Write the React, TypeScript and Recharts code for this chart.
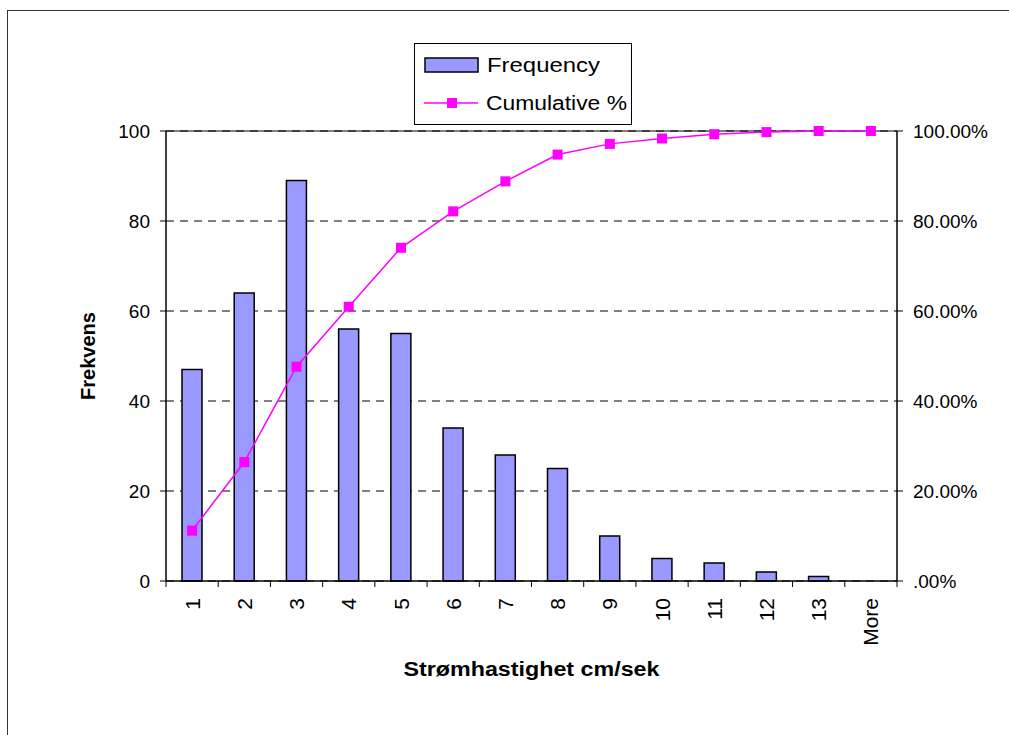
import React from 'react';
import {
  ComposedChart, Bar, Line, XAxis, YAxis, CartesianGrid, ReferenceLine,
} from 'recharts';

const categories = ['1', '2', '3', '4', '5', '6', '7', '8', '9', '10', '11', '12', '13', 'More'];
const frequency = [47, 64, 89, 56, 55, 34, 28, 25, 10, 5, 4, 2, 1, 0];
const cumulative = [0.1119, 0.2643, 0.4762, 0.6095, 0.7405, 0.8214, 0.8881, 0.9476, 0.9714, 0.9833, 0.9929, 0.9976, 1.0, 1.0];
const leftTicks = [0, 20, 40, 60, 80, 100];
const rightTicks = [0, 0.2, 0.4, 0.6, 0.8, 1.0];
const rightTickLabels = ['.00%', '20.00%', '40.00%', '60.00%', '80.00%', '100.00%'];

const data = categories.map((c, i) => ({ cat: c, freq: frequency[i], cum: cumulative[i] }));

const FONT = 'Arial, "Liberation Sans", sans-serif';
const BAR_FILL = '#9999FF';
const LINE_COLOR = '#FF00FF';

const XTick = (props: any) => {
  const { x, y, payload, index, visibleTicksCount } = props;
  const half = payload && payload.offset != null ? payload.offset : 0;
  const axisY = y - 17;
  return (
    <g>
      <line x1={x - half} x2={x - half} y1={axisY} y2={axisY + 6} stroke="#000" strokeWidth={1} />
      {index === visibleTicksCount - 1 ? (
        <line x1={x + half} x2={x + half} y1={axisY} y2={axisY + 6} stroke="#000" strokeWidth={1} />
      ) : null}
      <text
        x={0}
        y={0}
        transform={`translate(${x},${y}) rotate(-90)`}
        textAnchor="end"
        dy="0.36em"
        fontFamily={FONT}
        fontSize={21}
        fill="#000"
      >
        {payload.value}
      </text>
    </g>
  );
};

const SquareDot = (props: any) => {
  const { cx, cy } = props;
  if (cx == null || cy == null) return null;
  return <rect x={cx - 5} y={cy - 5} width={10} height={10} fill={LINE_COLOR} stroke="none" />;
};

const LegendBox = () => (
  <div
    style={{
      position: 'absolute',
      left: 406,
      top: 32,
      width: 218,
      height: 82,
      border: '1px solid #000',
      background: '#fff',
      boxSizing: 'border-box',
    }}
  >
    <svg width={216} height={80} style={{ display: 'block' }}>
      <rect x={10} y={14} width={53} height={14} fill={BAR_FILL} stroke="#000" strokeWidth={1.5} />
      <text x={72} y={21} dy="0.36em" fontFamily={FONT} fontSize={20} fill="#000"
        textLength={113} lengthAdjust="spacingAndGlyphs">Frequency</text>
      <line x1={9} x2={63} y1={59} y2={59} stroke={LINE_COLOR} strokeWidth={1.5} />
      <rect x={32} y={54} width={10} height={10} fill={LINE_COLOR} />
      <text x={71} y={59} dy="0.36em" fontFamily={FONT} fontSize={20} fill="#000"
        textLength={141} lengthAdjust="spacingAndGlyphs">Cumulative %</text>
    </svg>
  </div>
);

const YLabel = (props: any) => {
  const vb = props.viewBox || {};
  const cx = vb.x - 18;
  const cy = vb.y + vb.height / 2;
  return (
    <text
      x={cx}
      y={cy}
      transform={`rotate(-90, ${cx}, ${cy})`}
      textAnchor="middle"
      dy="0.36em"
      fontFamily={FONT}
      fontWeight="bold"
      fontSize={20}
      fill="#000"
    >
      Frekvens
    </text>
  );
};

const XLabel = (props: any) => {
  const vb = props.viewBox || {};
  return (
    <text
      x={vb.x + vb.width / 2}
      y={vb.y + 88}
      textAnchor="middle"
      dy="0.36em"
      fontFamily={FONT}
      fontWeight="bold"
      fontSize={20}
      fill="#000"
      textLength={256}
      lengthAdjust="spacingAndGlyphs"
    >
      Strømhastighet cm/sek
    </text>
  );
};

export default function App() {
  return (
    <div
      style={{
        position: 'fixed',
        left: 7,
        top: 10,
        width: 1002,
        height: 725,
        borderTop: '1px solid #333',
        borderLeft: '1px solid #333',
        background: '#fff',
      }}
    >
      <ComposedChart
        width={1002}
        height={725}
        data={data}
        margin={{ top: 120, right: 23, bottom: 55, left: 98 }}
      >
        <CartesianGrid
          yAxisId="left"
          horizontal
          vertical={false}
          stroke="#000"
          strokeDasharray="8 6"
        />
        <XAxis
          dataKey="cat"
          height={100}
          tickLine={false}
          tickSize={6}
          tickMargin={11}
          axisLine={{ stroke: '#000', strokeWidth: 1.5 }}
          tick={<XTick />}
          interval={0}
          label={<XLabel />}
        />
        <YAxis
          yAxisId="left"
          orientation="left"
          width={60}
          domain={[0, 100]}
          ticks={leftTicks}
          interval={0}
          tickSize={6}
          tickMargin={10}
          axisLine={{ stroke: '#000', strokeWidth: 1.5 }}
          tickLine={{ stroke: '#000' }}
          tick={{ fontFamily: FONT, fontSize: 19, fill: '#000' }}
          label={<YLabel />}
        />
        <YAxis
          yAxisId="right"
          orientation="right"
          width={90}
          domain={[0, 1]}
          ticks={rightTicks}
          interval={0}
          tickSize={6}
          tickMargin={10}
          axisLine={{ stroke: '#000', strokeWidth: 1.5 }}
          tickLine={{ stroke: '#000' }}
          tick={{ fontFamily: FONT, fontSize: 19, fill: '#000', textAnchor: 'start' }}
          tickFormatter={(v: number) => rightTickLabels[rightTicks.indexOf(v)] ?? ''}
        />
        <ReferenceLine yAxisId="left" y={100} stroke="#000" strokeWidth={1} />
        <Bar
          yAxisId="left"
          dataKey="freq"
          name="Frequency"
          fill={BAR_FILL}
          stroke="#000"
          strokeWidth={1.5}
          barSize={20}
          isAnimationActive={false}
        />
        <Line
          yAxisId="right"
          dataKey="cum"
          name="Cumulative %"
          type="linear"
          stroke={LINE_COLOR}
          strokeWidth={1.5}
          dot={<SquareDot />}
          activeDot={false}
          isAnimationActive={false}
        />
      </ComposedChart>
      <LegendBox />
    </div>
  );
}
